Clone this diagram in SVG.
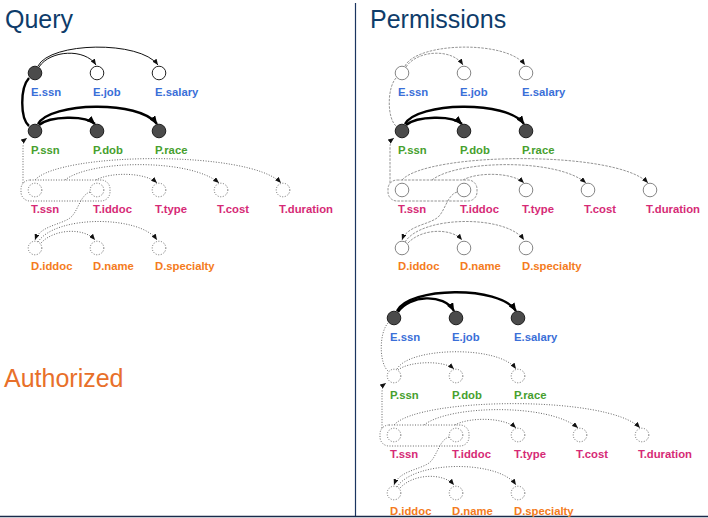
<svg xmlns="http://www.w3.org/2000/svg" width="708" height="518" viewBox="0 0 708 518">
<style>
.title{font-family:"Liberation Sans",Arial,sans-serif;font-size:25px}
.lb{font-family:"Liberation Sans",Arial,sans-serif;font-size:11.3px;font-weight:bold}
.e{fill:#3a6fd8}.p{fill:#46a02e}.t{fill:#d62a76}.d{fill:#f47b20}
.filled{fill:#4b4b4b;stroke:#1e1e1e;stroke-width:1}
.open{fill:#fff;stroke:#222;stroke-width:1}
.gopen{fill:#fff;stroke:#777;stroke-width:0.9}
.dot{fill:none;stroke:#666;stroke-width:1;stroke-dasharray:1 1.6}
.dotc{fill:#fff;stroke:#666;stroke-width:1;stroke-dasharray:1 1.6}
.dash{fill:none;stroke:#888;stroke-width:0.9;stroke-dasharray:2.5 1.2}
.thin{fill:none;stroke:#111;stroke-width:1}
.thick{fill:none;stroke:#000;stroke-width:2.4}
.rule{stroke:#1b3560;stroke-width:1.2}
</style>
<defs>
<marker id="a" markerUnits="userSpaceOnUse" markerWidth="6" markerHeight="5" refX="6" refY="2.5" orient="auto"><path d="M0,0 L6,2.5 L0,5 z" fill="#111"/></marker>
<marker id="A" markerUnits="userSpaceOnUse" markerWidth="9" markerHeight="7" refX="8" refY="3.5" orient="auto"><path d="M0,0 L8.5,3.5 L0,7 z" fill="#000"/></marker>
</defs>
<rect width="708" height="518" fill="#fff"/>
<line class="rule" x1="355.5" y1="3" x2="355.5" y2="516"/>
<line x1="0" y1="516.5" x2="708" y2="516.5" stroke="#1a2a4a" stroke-width="1.6"/>
<text class="title" x="5" y="28" fill="#0e3c6a">Query</text>
<text class="title" x="370" y="28" fill="#0e3c6a">Permissions</text>
<text class="title" x="4" y="387" fill="#e8702a">Authorized</text>

<!-- QUERY -->
<g id="query">
<g id="q-connectors">
<path class="thin" d="M39,67 C50,50 85,48 96,65" marker-end="url(#a)"/>
<path class="thin" d="M38,66 C50,42 140,40 158,65" marker-end="url(#a)"/>
<path class="thick" d="M29,78 C20,88 20,118 29,126"/>
<path class="thick" d="M39,125 C50,116 85,115 95,124" marker-end="url(#A)"/>
<path class="thick" d="M38,124 C50,102 140,100 157,124" marker-end="url(#A)"/>
<rect class="dot" x="21" y="180" width="89" height="21" rx="9"/>
<path class="dot" d="M23,183 L23,148 Q23,141 27,138" marker-end="url(#a)"/>
<path class="dot" d="M96,180 C110,172 145,172 157,183" marker-end="url(#a)"/>
<path class="dot" d="M65,180 C90,160 190,158 219,183" marker-end="url(#a)"/>
<path class="dot" d="M35,180 C60,152 250,150 281,183" marker-end="url(#a)"/>
<path class="dot" d="M90,192 C80,195 78,212 70,218 C60,225 40,226 35,240" marker-end="url(#a)"/>
<path class="dot" d="M41,243 C55,228 85,228 95,240" marker-end="url(#a)"/>
<path class="dot" d="M38,242 C55,215 140,215 157,240" marker-end="url(#a)"/>
</g>
<g id="q-essn"><circle class="filled" cx="35" cy="73" r="6.8"/><text class="lb e" x="31" y="96">E.ssn</text></g>
<g id="q-ejob"><circle class="open" cx="97" cy="73" r="6.8"/><text class="lb e" x="93" y="96">E.job</text></g>
<g id="q-esalary"><circle class="open" cx="159" cy="73" r="6.8"/><text class="lb e" x="155" y="96">E.salary</text></g>
<g id="q-pssn"><circle class="filled" cx="35" cy="131" r="6.8"/><text class="lb p" x="31" y="154">P.ssn</text></g>
<g id="q-pdob"><circle class="filled" cx="97" cy="131" r="6.8"/><text class="lb p" x="93" y="154">P.dob</text></g>
<g id="q-prace"><circle class="filled" cx="159" cy="131" r="6.8"/><text class="lb p" x="155" y="154">P.race</text></g>
<g id="q-tssn"><circle class="dotc" cx="35" cy="190" r="6.8"/><text class="lb t" x="31" y="213">T.ssn</text></g>
<g id="q-tiddoc"><circle class="dotc" cx="97" cy="190" r="6.8"/><text class="lb t" x="93" y="213">T.iddoc</text></g>
<g id="q-ttype"><circle class="dotc" cx="159" cy="190" r="6.8"/><text class="lb t" x="155" y="213">T.type</text></g>
<g id="q-tcost"><circle class="dotc" cx="221" cy="190" r="6.8"/><text class="lb t" x="217" y="213">T.cost</text></g>
<g id="q-tduration"><circle class="dotc" cx="283" cy="190" r="6.8"/><text class="lb t" x="279" y="213">T.duration</text></g>
<g id="q-diddoc"><circle class="dotc" cx="35" cy="248" r="6.8"/><text class="lb d" x="31" y="270">D.iddoc</text></g>
<g id="q-dname"><circle class="dotc" cx="97" cy="248" r="6.8"/><text class="lb d" x="93" y="270">D.name</text></g>
<g id="q-dspecialty"><circle class="dotc" cx="159" cy="248" r="6.8"/><text class="lb d" x="155" y="270">D.specialty</text></g>
</g>

<!-- PERMISSIONS -->
<g id="permissions" transform="translate(367,0)">
<g id="p-connectors">
<path class="dash" d="M39,67 C50,50 85,48 96,65" marker-end="url(#a)"/>
<path class="dash" d="M38,66 C50,42 140,40 158,65" marker-end="url(#a)"/>
<path class="dash" d="M29,78 C20,88 20,118 29,126"/>
<path class="thick" d="M39,125 C50,116 85,115 95,124" marker-end="url(#A)"/>
<path class="thick" d="M38,124 C50,102 140,100 157,124" marker-end="url(#A)"/>
<rect class="dash" x="21" y="180" width="89" height="21" rx="9"/>
<path class="dash" d="M23,183 L23,148 Q23,141 27,138" marker-end="url(#a)"/>
<path class="dash" d="M96,180 C110,172 145,172 157,183" marker-end="url(#a)"/>
<path class="dash" d="M65,180 C90,160 190,158 219,183" marker-end="url(#a)"/>
<path class="dash" d="M35,180 C60,152 250,150 281,183" marker-end="url(#a)"/>
<path class="dash" d="M90,192 C80,195 78,212 70,218 C60,225 40,226 35,240" marker-end="url(#a)"/>
<path class="dash" d="M41,243 C55,228 85,228 95,240" marker-end="url(#a)"/>
<path class="dash" d="M38,242 C55,215 140,215 157,240" marker-end="url(#a)"/>
</g>
<g id="p-essn"><circle class="gopen" cx="35" cy="73" r="6.8"/><text class="lb e" x="31" y="96">E.ssn</text></g>
<g id="p-ejob"><circle class="gopen" cx="97" cy="73" r="6.8"/><text class="lb e" x="93" y="96">E.job</text></g>
<g id="p-esalary"><circle class="gopen" cx="159" cy="73" r="6.8"/><text class="lb e" x="155" y="96">E.salary</text></g>
<g id="p-pssn"><circle class="filled" cx="35" cy="131" r="6.8"/><text class="lb p" x="31" y="154">P.ssn</text></g>
<g id="p-pdob"><circle class="filled" cx="97" cy="131" r="6.8"/><text class="lb p" x="93" y="154">P.dob</text></g>
<g id="p-prace"><circle class="filled" cx="159" cy="131" r="6.8"/><text class="lb p" x="155" y="154">P.race</text></g>
<g id="p-tssn"><circle class="gopen" cx="35" cy="190" r="6.8"/><text class="lb t" x="31" y="213">T.ssn</text></g>
<g id="p-tiddoc"><circle class="gopen" cx="97" cy="190" r="6.8"/><text class="lb t" x="93" y="213">T.iddoc</text></g>
<g id="p-ttype"><circle class="gopen" cx="159" cy="190" r="6.8"/><text class="lb t" x="155" y="213">T.type</text></g>
<g id="p-tcost"><circle class="gopen" cx="221" cy="190" r="6.8"/><text class="lb t" x="217" y="213">T.cost</text></g>
<g id="p-tduration"><circle class="gopen" cx="283" cy="190" r="6.8"/><text class="lb t" x="279" y="213">T.duration</text></g>
<g id="p-diddoc"><circle class="gopen" cx="35" cy="248" r="6.8"/><text class="lb d" x="31" y="270">D.iddoc</text></g>
<g id="p-dname"><circle class="gopen" cx="97" cy="248" r="6.8"/><text class="lb d" x="93" y="270">D.name</text></g>
<g id="p-dspecialty"><circle class="gopen" cx="159" cy="248" r="6.8"/><text class="lb d" x="155" y="270">D.specialty</text></g>
</g>

<!-- AUTHORIZED -->
<g id="authorized" transform="translate(359,245)">
<g id="a-connectors">
<path class="thick" d="M39,67 C50,50 85,48 95,66" marker-end="url(#A)"/>
<path class="thick" d="M38,66 C50,42 140,40 157,66" marker-end="url(#A)"/>
<path class="dot" d="M29,78 C20,88 20,118 29,126"/>
<path class="dot" d="M39,125 C50,116 85,115 95,124" marker-end="url(#a)"/>
<path class="dot" d="M38,124 C50,102 140,100 157,124" marker-end="url(#a)"/>
<rect class="dot" x="21" y="180" width="89" height="21" rx="9"/>
<path class="dot" d="M23,183 L23,148 Q23,141 27,138" marker-end="url(#a)"/>
<path class="dot" d="M96,180 C110,172 145,172 157,183" marker-end="url(#a)"/>
<path class="dot" d="M65,180 C90,160 190,158 219,183" marker-end="url(#a)"/>
<path class="dot" d="M35,180 C60,152 250,150 281,183" marker-end="url(#a)"/>
<path class="dot" d="M90,192 C80,195 78,212 70,218 C60,225 40,226 35,240" marker-end="url(#a)"/>
<path class="dot" d="M41,243 C55,228 85,228 95,240" marker-end="url(#a)"/>
<path class="dot" d="M38,242 C55,215 140,215 157,240" marker-end="url(#a)"/>
</g>
<g id="a-essn"><circle class="filled" cx="35" cy="73" r="6.8"/><text class="lb e" x="31" y="96">E.ssn</text></g>
<g id="a-ejob"><circle class="filled" cx="97" cy="73" r="6.8"/><text class="lb e" x="93" y="96">E.job</text></g>
<g id="a-esalary"><circle class="filled" cx="159" cy="73" r="6.8"/><text class="lb e" x="155" y="96">E.salary</text></g>
<g id="a-pssn"><circle class="dotc" cx="35" cy="131" r="6.8"/><text class="lb p" x="31" y="154">P.ssn</text></g>
<g id="a-pdob"><circle class="dotc" cx="97" cy="131" r="6.8"/><text class="lb p" x="93" y="154">P.dob</text></g>
<g id="a-prace"><circle class="dotc" cx="159" cy="131" r="6.8"/><text class="lb p" x="155" y="154">P.race</text></g>
<g id="a-tssn"><circle class="dotc" cx="35" cy="190" r="6.8"/><text class="lb t" x="31" y="213">T.ssn</text></g>
<g id="a-tiddoc"><circle class="dotc" cx="97" cy="190" r="6.8"/><text class="lb t" x="93" y="213">T.iddoc</text></g>
<g id="a-ttype"><circle class="dotc" cx="159" cy="190" r="6.8"/><text class="lb t" x="155" y="213">T.type</text></g>
<g id="a-tcost"><circle class="dotc" cx="221" cy="190" r="6.8"/><text class="lb t" x="217" y="213">T.cost</text></g>
<g id="a-tduration"><circle class="dotc" cx="283" cy="190" r="6.8"/><text class="lb t" x="279" y="213">T.duration</text></g>
<g id="a-diddoc"><circle class="dotc" cx="35" cy="248" r="6.8"/><text class="lb d" x="31" y="270">D.iddoc</text></g>
<g id="a-dname"><circle class="dotc" cx="97" cy="248" r="6.8"/><text class="lb d" x="93" y="270">D.name</text></g>
<g id="a-dspecialty"><circle class="dotc" cx="159" cy="248" r="6.8"/><text class="lb d" x="155" y="270">D.specialty</text></g>
</g>
</svg>
